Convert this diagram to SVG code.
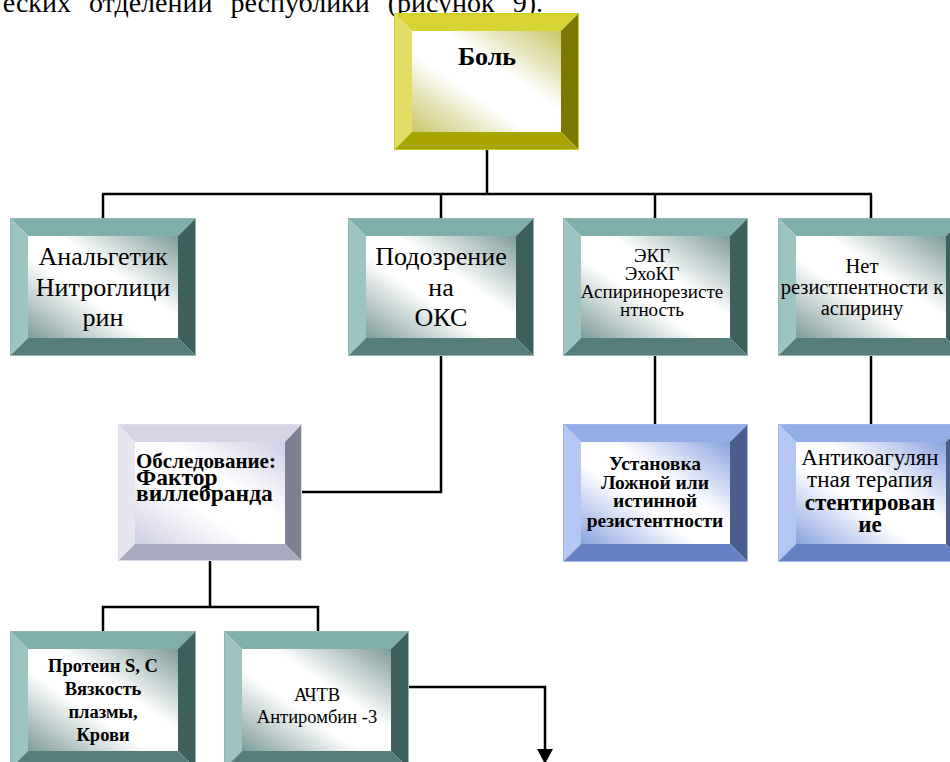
<svg xmlns="http://www.w3.org/2000/svg" width="950" height="762" viewBox="0 0 950 762">
<defs>
<linearGradient id="gY" x1="1" y1="0" x2="0" y2="1"><stop offset="0" stop-color="#c9c56a"/><stop offset="0.4" stop-color="#ffffff"/><stop offset="0.6" stop-color="#ffffff"/><stop offset="1" stop-color="#c9c56a"/></linearGradient>
<linearGradient id="gT" x1="1" y1="0" x2="0" y2="1"><stop offset="0" stop-color="#7e9c9a"/><stop offset="0.4" stop-color="#ffffff"/><stop offset="0.6" stop-color="#ffffff"/><stop offset="1" stop-color="#7e9c9a"/></linearGradient>
<linearGradient id="gP" x1="1" y1="0" x2="0" y2="1"><stop offset="0" stop-color="#cfcfe6"/><stop offset="0.4" stop-color="#ffffff"/><stop offset="0.6" stop-color="#ffffff"/><stop offset="1" stop-color="#cfcfe6"/></linearGradient>
<linearGradient id="gB" x1="1" y1="0" x2="0" y2="1"><stop offset="0" stop-color="#8aa3e0"/><stop offset="0.4" stop-color="#ffffff"/><stop offset="0.6" stop-color="#ffffff"/><stop offset="1" stop-color="#8aa3e0"/></linearGradient>
</defs>
<style>
text{font-family:"Liberation Serif","Times New Roman",serif;fill:#000;}
.b{font-weight:bold;}
.c{text-anchor:middle;}
.conn line,.conn polyline{stroke:#000;stroke-width:2.5;fill:none;}
.conn polygon{fill:#000;}
.yel .t{fill:#d6d332;} .yel .l{fill:#e0de64;} .yel .r{fill:#7a7800;} .yel .bt{fill:#a9a500;} .yel .i{fill:url(#gY);} .yel .o{stroke:#cfcc20;}
.teal .t{fill:#80aeab;} .teal .l{fill:#9ec4c1;} .teal .r{fill:#3f5f5d;} .teal .bt{fill:#567d7a;} .teal .i{fill:url(#gT);} .teal .o{stroke:#8cb7b4;}
.pur .t{fill:#d5d5e7;} .pur .l{fill:#e6e6f1;} .pur .r{fill:#7f7f94;} .pur .bt{fill:#a9a9c0;} .pur .i{fill:url(#gP);} .pur .o{stroke:#dcdcec;}
.blue .t{fill:#94ade9;} .blue .l{fill:#b4c6f1;} .blue .r{fill:#4a5d8b;} .blue .bt{fill:#6781c4;} .blue .i{fill:url(#gB);} .blue .o{stroke:#9fb6ee;}
.o{fill:none;stroke-width:1;}
</style>

<text x="543" y="12" font-size="28" word-spacing="11" text-anchor="end">еских отделений республики (рисунок 9).</text>

<g class="conn">
<line x1="487" y1="150" x2="487" y2="194"/>
<line x1="102" y1="194" x2="872" y2="194"/>
<line x1="103" y1="194" x2="103" y2="218"/>
<line x1="441" y1="194" x2="441" y2="218"/>
<line x1="655" y1="194" x2="655" y2="218"/>
<line x1="871" y1="194" x2="871" y2="218"/>
<polyline points="441,356 441,492 302,492"/>
<line x1="655" y1="356" x2="655" y2="424"/>
<line x1="871" y1="356" x2="871" y2="424"/>
<line x1="210" y1="561" x2="210" y2="607"/>
<polyline points="103,631 103,607 318,607 318,631"/>
<polyline points="409,687 545,687 545,750"/>
<polygon points="537,749 553,749 545,764"/>
</g>

<g id="n-bol" class="yel" transform="translate(394,13)">
<polygon class="t" points="0,0 185,0 167,18 18,18"/>
<polygon class="l" points="0,0 18,18 18,119 0,137"/>
<polygon class="r" points="185,0 185,137 167,119 167,18"/>
<polygon class="bt" points="0,137 18,119 167,119 185,137"/>
<rect class="i" x="18" y="18" width="149" height="101"/>
<rect class="o" x="0.5" y="0.5" width="184" height="136"/>
<text class="b c" x="93" y="52" font-size="26">Боль</text>
</g>

<g id="n-analg" class="teal" transform="translate(10,218)">
<polygon class="t" points="0,0 186,0 168,18 18,18"/>
<polygon class="l" points="0,0 18,18 18,120 0,138"/>
<polygon class="r" points="186,0 186,138 168,120 168,18"/>
<polygon class="bt" points="0,138 18,120 168,120 186,138"/>
<rect class="i" x="18" y="18" width="150" height="102"/>
<rect class="o" x="0.5" y="0.5" width="185" height="137"/>
<text class="c" x="93" font-size="26"><tspan x="93" y="47">Анальгетик</tspan><tspan x="93" y="78">Нитроглици</tspan><tspan x="93" y="108">рин</tspan></text>
</g>

<g id="n-okc" class="teal" transform="translate(348,218)">
<polygon class="t" points="0,0 186,0 168,18 18,18"/>
<polygon class="l" points="0,0 18,18 18,120 0,138"/>
<polygon class="r" points="186,0 186,138 168,120 168,18"/>
<polygon class="bt" points="0,138 18,120 168,120 186,138"/>
<rect class="i" x="18" y="18" width="150" height="102"/>
<rect class="o" x="0.5" y="0.5" width="185" height="137"/>
<text class="c" x="93" font-size="26"><tspan x="93" y="47">Подозрение</tspan><tspan x="93" y="78">на</tspan><tspan x="93" y="108">ОКС</tspan></text>
</g>

<g id="n-ekg" class="teal" transform="translate(563,218)">
<polygon class="t" points="0,0 185,0 167,18 18,18"/>
<polygon class="l" points="0,0 18,18 18,120 0,138"/>
<polygon class="r" points="185,0 185,138 167,120 167,18"/>
<polygon class="bt" points="0,138 18,120 167,120 185,138"/>
<rect class="i" x="18" y="18" width="149" height="102"/>
<rect class="o" x="0.5" y="0.5" width="184" height="137"/>
<text class="c" font-size="19"><tspan x="89" y="44">ЭКГ</tspan><tspan x="89" y="62">ЭхоКГ</tspan><tspan x="89" y="80">Аспиринорезисте</tspan><tspan x="89" y="98">нтность</tspan></text>
</g>

<g id="n-net" class="teal" transform="translate(778,218)">
<polygon class="t" points="0,0 186,0 168,18 18,18"/>
<polygon class="l" points="0,0 18,18 18,120 0,138"/>
<polygon class="r" points="186,0 186,138 168,120 168,18"/>
<polygon class="bt" points="0,138 18,120 168,120 186,138"/>
<rect class="i" x="18" y="18" width="150" height="102"/>
<rect class="o" x="0.5" y="0.5" width="185" height="137"/>
<text class="c" font-size="20.5"><tspan x="84" y="55">Нет</tspan><tspan x="84" y="76">резистпентности к</tspan><tspan x="84" y="97">аспирину</tspan></text>
</g>

<g id="n-obsl" class="pur" transform="translate(118,424)">
<polygon class="t" points="0,0 184,0 167,18 17,18"/>
<polygon class="l" points="0,0 17,18 17,120 0,137"/>
<polygon class="r" points="184,0 184,137 167,120 167,18"/>
<polygon class="bt" points="0,137 17,120 167,120 184,137"/>
<rect class="i" x="17" y="18" width="150" height="102"/>
<rect class="o" x="0.5" y="0.5" width="183" height="136"/>
<text class="b" x="18" y="44" font-size="21">Обследование:</text>
<text class="b" x="18" y="61" font-size="23.5">Фактор</text>
<text class="b" x="18" y="77" font-size="23.5">виллебранда</text>
</g>

<g id="n-ust" class="blue" transform="translate(563,424)">
<polygon class="t" points="0,0 185,0 167,18 18,18"/>
<polygon class="l" points="0,0 18,18 18,120 0,138"/>
<polygon class="r" points="185,0 185,138 167,120 167,18"/>
<polygon class="bt" points="0,138 18,120 167,120 185,138"/>
<rect class="i" x="18" y="18" width="149" height="102"/>
<rect class="o" x="0.5" y="0.5" width="184" height="137"/>
<text class="b c" font-size="19.5"><tspan x="92" y="46">Установка</tspan><tspan x="92" y="65">Ложной или</tspan><tspan x="92" y="83">истинной</tspan><tspan x="92" y="103">резистентности</tspan></text>
</g>

<g id="n-antik" class="blue" transform="translate(778,424)">
<polygon class="t" points="0,0 186,0 168,18 18,18"/>
<polygon class="l" points="0,0 18,18 18,120 0,138"/>
<polygon class="r" points="186,0 186,138 168,120 168,18"/>
<polygon class="bt" points="0,138 18,120 168,120 186,138"/>
<rect class="i" x="18" y="18" width="150" height="102"/>
<rect class="o" x="0.5" y="0.5" width="185" height="137"/>
<text class="c" font-size="23"><tspan x="92" y="41">Антикоагулян</tspan><tspan x="92" y="63">тная терапия</tspan><tspan class="b" x="92" y="86">стентирован</tspan><tspan class="b" x="92" y="108">ие</tspan></text>
</g>

<g id="n-protein" class="teal" transform="translate(10,631)">
<polygon class="t" points="0,0 186,0 168,18 18,18"/>
<polygon class="l" points="0,0 18,18 18,120 0,138"/>
<polygon class="r" points="186,0 186,138 168,120 168,18"/>
<polygon class="bt" points="0,138 18,120 168,120 186,138"/>
<rect class="i" x="18" y="18" width="150" height="102"/>
<rect class="o" x="0.5" y="0.5" width="185" height="137"/>
<text class="b c" font-size="18.5"><tspan x="93" y="41">Протеин S, C</tspan><tspan x="93" y="64">Вязкость</tspan><tspan x="93" y="87">плазмы,</tspan><tspan x="93" y="110">Крови</tspan></text>
</g>

<g id="n-achtv" class="teal" transform="translate(224,631)">
<polygon class="t" points="0,0 185,0 167,18 18,18"/>
<polygon class="l" points="0,0 18,18 18,120 0,138"/>
<polygon class="r" points="185,0 185,138 167,120 167,18"/>
<polygon class="bt" points="0,138 18,120 167,120 185,138"/>
<rect class="i" x="18" y="18" width="149" height="102"/>
<rect class="o" x="0.5" y="0.5" width="184" height="137"/>
<text class="c" font-size="18.5"><tspan x="93" y="70">АЧТВ</tspan><tspan x="93" y="92">Антиромбин -3</tspan></text>
</g>
</svg>
